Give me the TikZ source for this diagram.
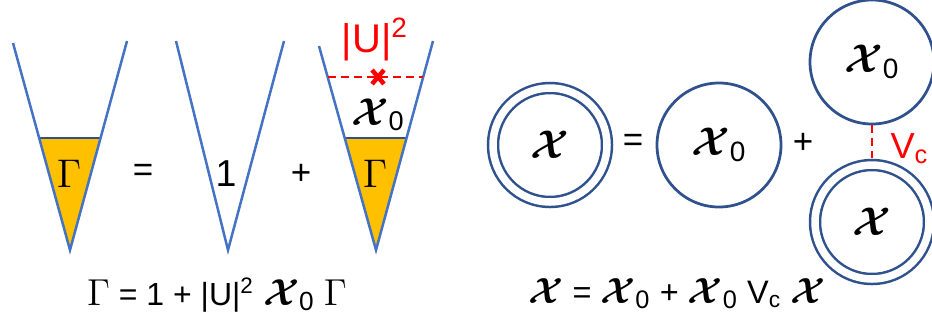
\documentclass[tikz,border=0pt]{standalone}
\usepackage{fix-cm}
\usepackage[no-math]{fontspec}
\setsansfont{Liberation Sans}
\usepackage{amsmath,amssymb,bm}
\usepackage{xcolor}
\usetikzlibrary{positioning}

\definecolor{veeblue}{RGB}{68,114,196}
\definecolor{ringblue}{RGB}{47,82,143}
\definecolor{gold}{RGB}{255,192,0}

% big symbols at a given size
\newcommand{\Gm}[1]{{\fontsize{#1}{#1}\selectfont$\Gamma$}}
\newcommand{\cX}[1]{{\fontsize{#1}{#1}\selectfont$\bm{\mathcal{X}}$}}
\newcommand{\cXo}[1]{{\fontsize{#1}{#1}\selectfont$\bm{\mathcal{X}}_{\textsf{0}}$}}

\begin{document}
\begin{tikzpicture}[x=0.4pt,y=-0.4pt,
  sans/.style={font=\fontsize{#1}{#1}\selectfont\sffamily,inner sep=0pt},
  sans/.default=12,
  vee/.style={veeblue,line width=1pt,line join=miter},
  lid/.style={ringblue,line width=1pt},
  ring/.style={circle,draw=ringblue,line width=1.1pt,minimum size=49.6pt,inner sep=0pt},
  dring/.style={circle,draw=ringblue,line width=1pt,double,double distance=3pt,minimum size=45.6pt,inner sep=0pt},
  link/.style={red,line width=1pt,dash pattern=on 3.2pt off 2pt}]

  \useasboundingbox (0,0) rectangle (932,321);

  % left: Gamma vertex
  \fill[gold] (39,138) -- (100.5,138) -- (70,250) -- cycle;
  \draw[lid] (39,138) -- (100.5,138);
  \draw[vee] (13,43) -- (70,250) -- (127,41);
  \node[inner sep=0pt] (gam) at (69,174) {\Gm{16}};

  \node[sans=14] (eqa) at (143,173) {=};

  % bare vertex
  \draw[vee] (176,41) -- (228,250) -- (284,41);
  \node[sans=15,anchor=base] (one) at (226,186) {1};

  \node[sans=14] (pla) at (301,174) {+};

  % dressed vertex
  \fill[gold] (344.7,138) -- (406.5,138) -- (376,250) -- cycle;
  \draw[lid] (344.7,138) -- (406.5,138);
  \draw[vee] (319,46) -- (376,250) -- (433,41);
  \node[inner sep=0pt] (gamb) at (375,174) {\Gm{16}};
  \node[anchor=base,inner sep=0pt] (xa) at (378,125) {\cXo{15.5}};
  \coordinate (cl) at (327.7,77);
  \coordinate (cr) at (423.2,77);
  \draw[link] (cl) -- (cr);
  \draw[red,line width=1.8pt] (372,70) -- (384,84) (372,84) -- (384,70);
  \node[sans=16,red,anchor=base] (uu) at (375,52) {|U|\textsuperscript{2}};

  \node[sans=12.8,anchor=base] (eqlft) at (217,305)
    {\Gm{15} = 1 + |U|\textsuperscript{2} \cXo{15} \Gm{15}};

  % right: chi bubbles
  \node[dring] (chi) at (550,145) {\cX{16}};
  \node[sans=14] (eqb) at (633,143) {=};
  \node[ring] (chia) at (719,145) {\cXo{16}};
  \node[sans=14] (plb) at (803,143) {+};
  \node[ring] (chib) at (872,62) {\cXo{16}};
  \node[dring] (chic) at (872,222) {\cX{16}};
  \draw[link,shorten >=2.4pt] (chib) -- (chic);
  \node[sans=14.5,red,anchor=base west] (vc) at (890,158) {V\textsubscript{c}};

  \node[sans=13,anchor=base] (eqrgt) at (677,303)
    {\cX{14.5} = \cXo{14.5} + \cXo{14.5} V\textsubscript{c} \cX{14.5}};

\end{tikzpicture}
\end{document}
